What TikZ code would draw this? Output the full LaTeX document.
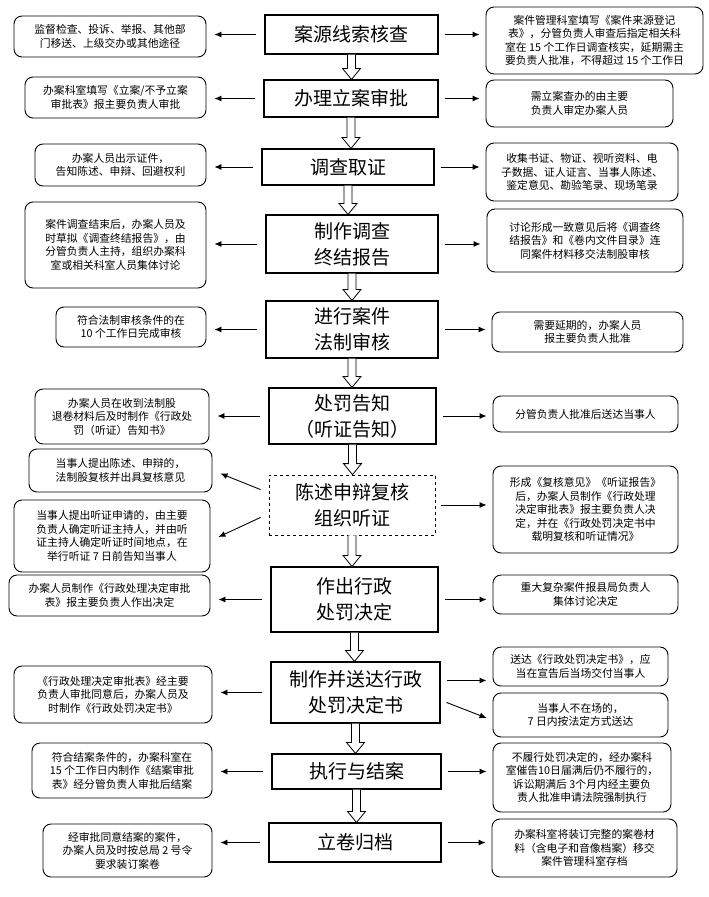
\documentclass[tikz,border=0pt]{standalone}
\usepackage{fontspec}
\setmainfont{Noto Sans CJK SC}
\usetikzlibrary{calc,arrows.meta}
\tikzset{
 mbox/.style={draw,line width=1.1pt,font=\fontsize{19}{26}\selectfont,align=center,inner sep=0pt},
 sbox/.style={draw,line width=0.9pt,rounded corners=8pt,font=\fontsize{10.8}{13.5}\selectfont,align=center,inner sep=0pt},
 arr/.style={-{Latex[length=7pt,width=6pt]},line width=0.9pt},
 hol/.style={draw,line width=0.8pt,fill=white}
}
\newcommand{\MB}[6]{\node[#1,minimum width=#4pt,minimum height=#5pt] (#2) at (#3) {#6};}
\newcommand{\HA}[2]{\coordinate (ht) at (#1.south); \coordinate (hb) at (#1.south |- #2.north);
 \draw[hol] ([xshift=-4pt]ht) -- ([xshift=-4pt,yshift=11pt]hb) -- ([xshift=-9pt,yshift=11pt]hb) -- (hb) -- ([xshift=9pt,yshift=11pt]hb) -- ([xshift=4pt,yshift=11pt]hb) -- ([xshift=4pt]ht);}
\newcommand{\LA}[2]{\draw[arr,shorten >=8pt,shorten <=8pt] (#1.west) -- (#1.west -| #2.east);}
\newcommand{\RA}[2]{\draw[arr,shorten >=6pt,shorten <=6pt] (#1.east) -- (#1.east -| #2.west);}
\begin{document}
\begin{tikzpicture}[x=1pt,y=-1pt]
\useasboundingbox[fill=white] (0,0) rectangle (709,897);
\MB{mbox}{m1}{351.5,34.5}{173}{39}{案源线索核查}
\MB{mbox}{m2}{351,98.5}{174}{37}{办理立案审批}
\MB{mbox}{m3}{348,167}{172}{36}{调查取证}
\MB{mbox}{m4}{352,244}{172}{58}{制作调查\\终结报告}
\MB{mbox}{m5}{352,329.5}{172}{57}{进行案件\\法制审核}
\MB{mbox}{m6}{352.5,416}{167}{56}{处罚告知\\（听证告知）}
\MB{mbox,dashed,line width=0.8pt}{m7}{352,505}{166}{60}{陈述申辩复核\\组织听证}
\MB{mbox}{m8}{354.5,599.5}{167}{65}{作出行政\\处罚决定}
\MB{mbox}{m9}{355.5,692.5}{169}{61}{制作并送达行政\\处罚决定书}
\MB{mbox}{m10}{356.5,771.5}{169}{35}{执行与结案}
\MB{mbox}{m11}{355,842.5}{172}{39}{立卷归档}

\MB{sbox}{l1}{110,36.5}{192}{41}{监督检查、投诉、举报、其他部\\门移送、上级交办或其他途径}
\MB{sbox}{l2}{115.5,97.5}{181}{41}{办案科室填写《立案/不予立案\\审批表》报主要负责人审批}
\MB{sbox}{l3}{120.5,165}{171}{42}{办案人员出示证件，\\告知陈述、申辩、回避权利}
\MB{sbox}{l4}{115.5,245}{181}{86}{案件调查结束后，办案人员及\\时草拟《调查终结报告》，由\\分管负责人主持，组织办案科\\室或相关科室人员集体讨论}
\MB{sbox}{l5}{131,327}{150}{40}{符合法制审核条件的在\\10 个工作日完成审核}
\MB{sbox}{l6}{122,416.5}{174}{55}{办案人员在收到法制股\\退卷材料后及时制作《行政处\\罚（听证）告知书》}
\MB{sbox}{l7}{120.5,470.5}{183}{43}{当事人提出陈述、申辩的，\\法制股复核并出具复核意见}
\MB{sbox}{l8}{112,536}{196}{72}{当事人提出听证申请的，由主要\\负责人确定听证主持人，并由听\\证主持人确定听证时间地点，在\\举行听证 7 日前告知当事人}
\MB{sbox}{l9}{109.5,595.5}{201}{41}{办案人员制作《行政处理决定审批\\表》报主要负责人作出决定}
\MB{sbox}{l10}{113,694.5}{198}{57}{《行政处理决定审批表》经主要\\负责人审批同意后，办案人员及\\时制作《行政处罚决定书》}
\MB{sbox}{l11}{122,770.5}{180}{55}{符合结案条件的，办案科室在\\15 个工作日内制作《结案审批\\表》经分管负责人审批后结案}
\MB{sbox}{l12}{127.5,850.5}{169}{53}{经审批同意结案的案件，\\办案人员及时按总局 2 号令\\要求装订案卷}

\MB{sbox}{r1}{594.5,40.5}{217}{67}{案件管理科室填写《案件来源登记\\表》，分管负责人审查后指定相关科\\室在 15 个工作日调查核实，延期需主\\要负责人批准，不得超过 15 个工作日}
\MB{sbox}{r2}{579.5,103.5}{187}{47}{需立案查办的由主要\\负责人审定办案人员}
\MB{sbox}{r3}{582,172}{192}{58}{收集书证、物证、视听资料、电\\子数据、证人证言、当事人陈述、\\鉴定意见、勘验笔录、现场笔录}
\MB{sbox}{r4}{585,240.5}{196}{63}{讨论形成一致意见后将《调查终\\结报告》和《卷内文件目录》连\\同案件材料移交法制股审核}
\MB{sbox}{r5}{587.5,332}{191}{40}{需要延期的，办案人员\\报主要负责人批准}
\MB{sbox}{r6}{585.5,414}{185}{36}{分管负责人批准后送达当事人}
\MB{sbox}{r7}{585.5,509.5}{185}{87}{形成《复核意见》《听证报告》\\后，办案人员制作《行政处理\\决定审批表》报主要负责人决\\定，并在《行政处罚决定书中\\载明复核和听证情况》}
\MB{sbox}{r8}{585.5,594.5}{185}{39}{重大复杂案件报县局负责人\\集体讨论决定}
\MB{sbox}{r9}{580.5,666.5}{175}{39}{送达《行政处罚决定书》，应\\当在宣告后当场交付当事人}
\MB{sbox}{r10}{580.5,715}{175}{44}{当事人不在场的，\\7 日内按法定方式送达}
\MB{sbox}{r11}{582,777.5}{178}{69}{不履行处罚决定的，经办案科\\室催告10日届满后仍不履行的，\\诉讼期满后 3个月内经主要负\\责人批准申请法院强制执行}
\MB{sbox}{r12}{584.5,848}{185}{58}{办案科室将装订完整的案卷材\\料（含电子和音像档案）移交\\案件管理科室存档}

\HA{m1}{m2}\HA{m2}{m3}\HA{m3}{m4}\HA{m4}{m5}\HA{m5}{m6}
\HA{m6}{m7}\HA{m7}{m8}\HA{m8}{m9}\HA{m9}{m10}\HA{m10}{m11}

\LA{m1}{l1}\LA{m2}{l2}\LA{m3}{l3}\LA{m4}{l4}\LA{m5}{l5}\LA{m6}{l6}
\LA{m8}{l9}\LA{m9}{l10}\LA{m10}{l11}\LA{m11}{l12}
\draw[arr] ([xshift=-8pt,yshift=-15pt]m7.north west) -- ([xshift=8pt,yshift=-3pt]l7.east);
\draw[arr] ([xshift=-8pt,yshift=18pt]m7.south west) -- ([xshift=8pt,yshift=-1pt]l8.east);

\RA{m1}{r1}\RA{m2}{r2}\RA{m3}{r3}\RA{m4}{r4}\RA{m5}{r5}\RA{m6}{r6}
\RA{m7}{r7}\RA{m8}{r8}\RA{m10}{r11}\RA{m11}{r12}
\draw[arr] ([xshift=6pt,yshift=-19pt]m9.north east) -- ([xshift=-6pt,yshift=-19pt]m9.north east -| r9.west);
\draw[arr] ([xshift=6pt,yshift=-41pt]m9.north east) -- ([xshift=-6pt,yshift=-3pt]r10.west);
\end{tikzpicture}
\end{document}
